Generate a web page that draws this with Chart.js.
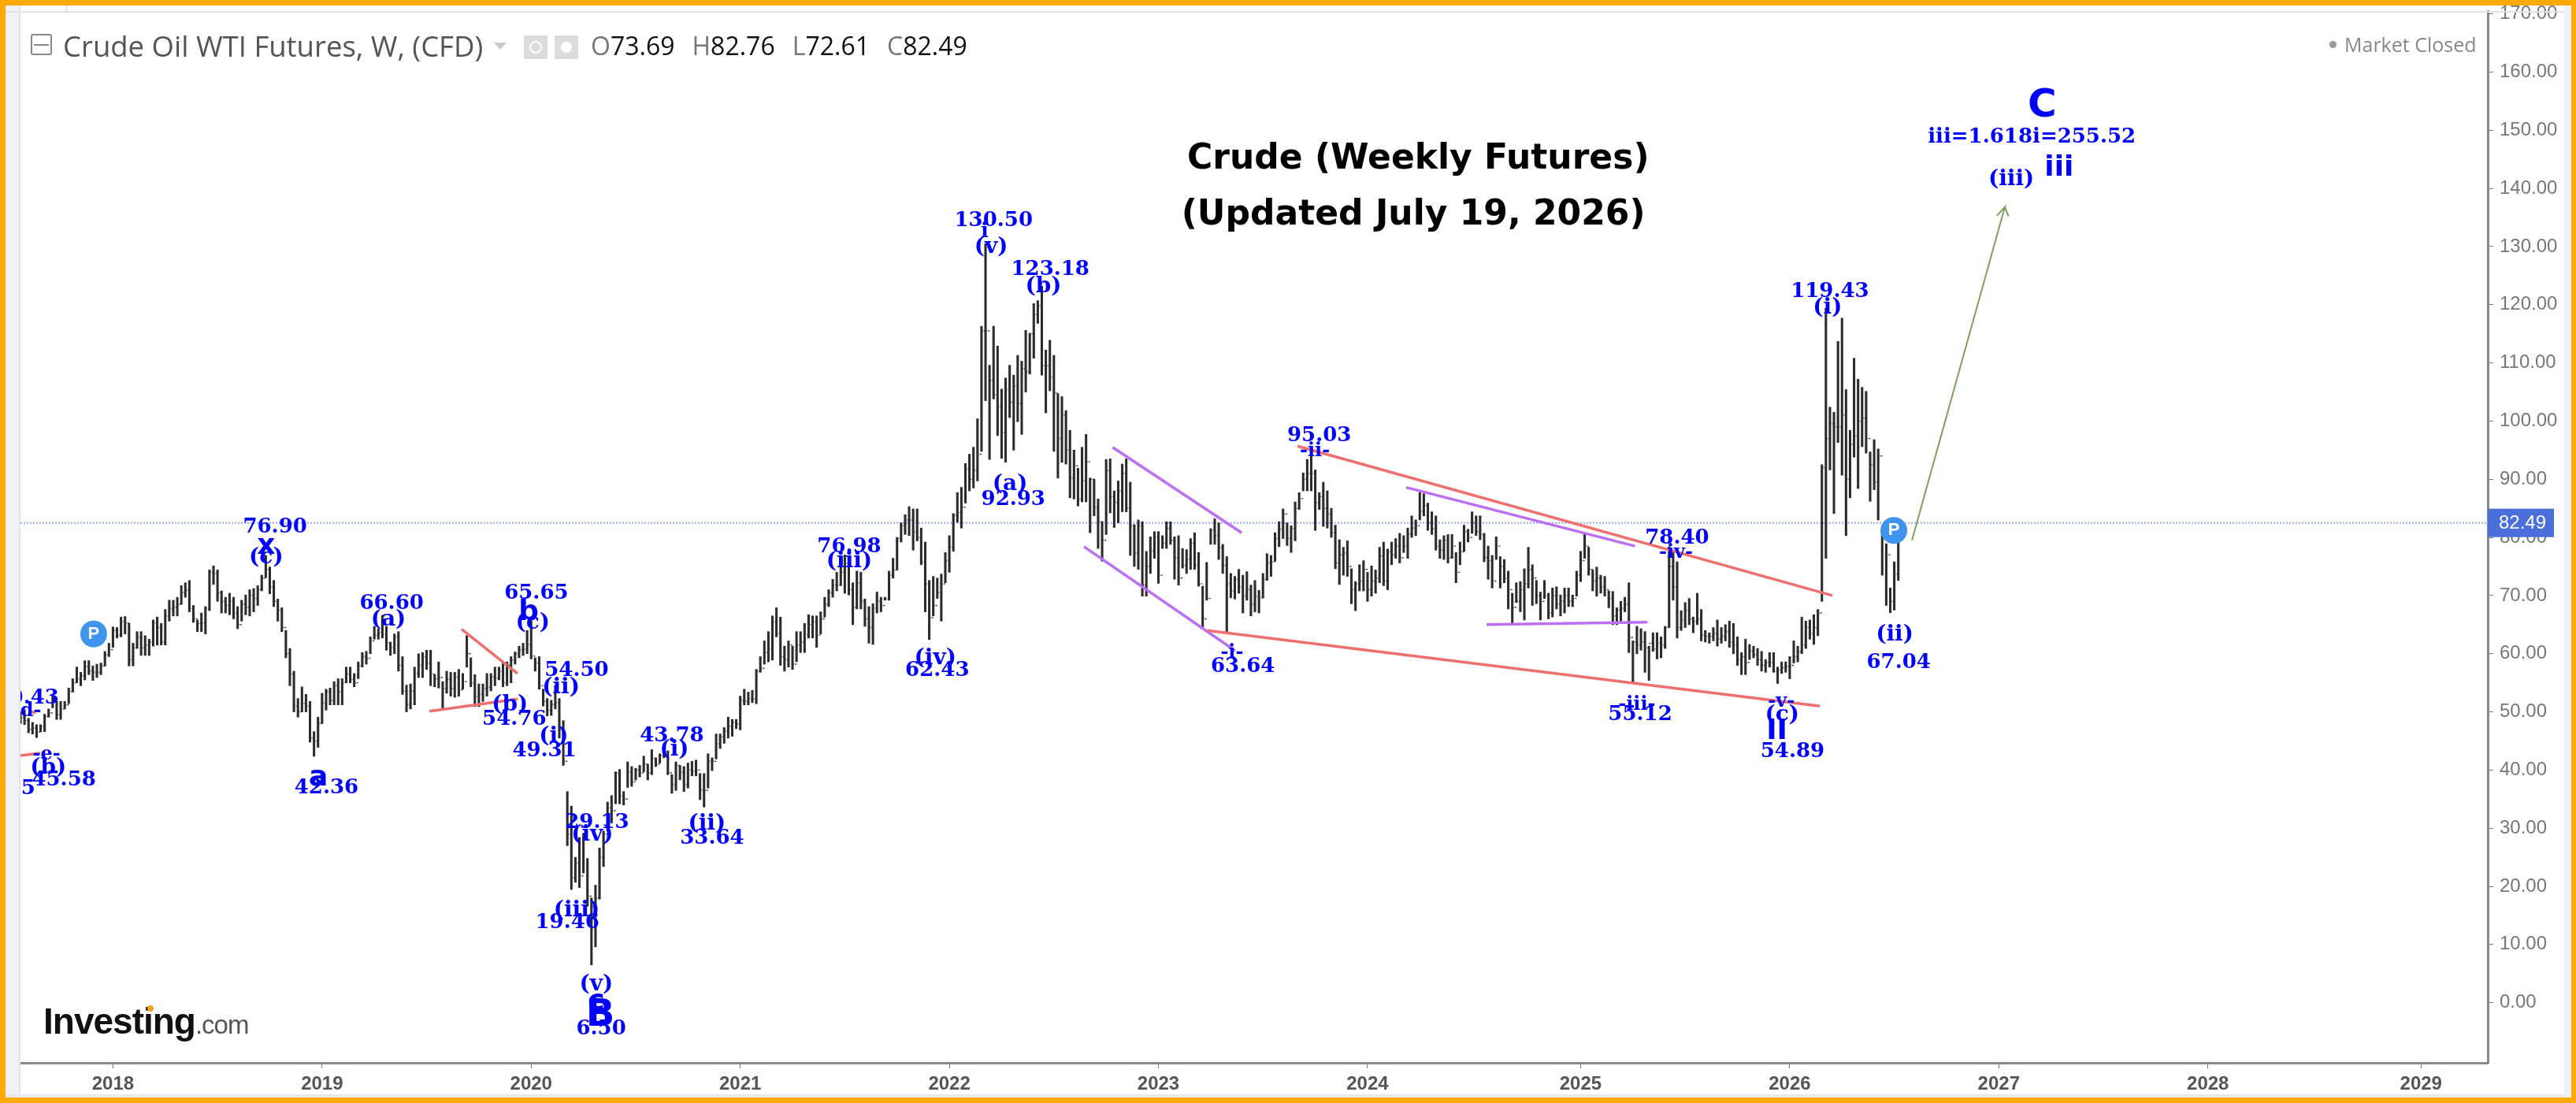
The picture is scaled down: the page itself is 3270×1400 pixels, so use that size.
<!DOCTYPE html>
<html>
<head>
<meta charset="utf-8">
<title>Crude Oil WTI Futures</title>
<script src="https://cdn.jsdelivr.net/npm/chart.js@4/dist/chart.umd.min.js"></script>
<style>
  html, body { margin: 0; padding: 0; background: #fff; width: 3270px; height: 1400px; overflow: hidden; }
  #chart { position: absolute; left: 0; top: 0; }
  .abs { position: absolute; }
  #frame { left: 0; top: 0; width: 3270px; height: 1400px; box-sizing: border-box;
           border: solid #ffaa00; border-width: 7px 6px 7px 7px; }
  #hdr { left: 80px; top: 36px; font: 36.5px "Open Sans", sans-serif; color: #555; white-space: nowrap; line-height: 44px; }
  #ohlc { left: 750px; top: 38px; font: 32px "Open Sans", sans-serif; color: #777; white-space: nowrap; line-height: 40px; }
  #ohlc b { font-weight: normal; color: #111; margin-right: 22px; }
  #closed { left: 2976px; top: 40px; font: 25px "Open Sans", sans-serif; color: #888; line-height: 32px; white-space: nowrap; }
  #logo { left: 55px; top: 1266px; font: bold 46px "Liberation Sans", sans-serif; letter-spacing: -1px; color: #111; white-space: nowrap; line-height: 60px; }
  #logo span { font: 33px "Liberation Sans", sans-serif; letter-spacing: -1px; color: #555; }
</style>
</head>
<body>
<canvas id="chart" width="3270" height="1400"></canvas>

<!-- panels round the plot -->
<div class="abs" style="left:7px;top:7px;width:19px;height:1386px;background:#f0f2f7;border-right:2px solid #e2e4ea;box-sizing:border-box"></div>
<div class="abs" style="left:7px;top:14px;width:3257px;height:2px;background:#dfe1e6"></div>
<div class="abs" style="left:7px;top:1389px;width:3257px;height:4px;background:#e8eaf2"></div>
<div class="abs" style="left:3255px;top:7px;width:9px;height:1386px;background:#eef0f6"></div>
<div class="abs" style="left:84px;top:7px;width:1px;height:8px;background:#ccc"></div>

<!-- toolbar bits -->
<div class="abs" style="left:39px;top:43px;width:27px;height:27px;border:2px solid #888;border-radius:3px;box-sizing:border-box"></div>
<div class="abs" style="left:43px;top:56px;width:19px;height:2px;background:#888"></div>
<div class="abs" style="left:627px;top:54px;width:0;height:0;border:8px solid transparent;border-top:9px solid #c8c8c8"></div>
<div class="abs" style="left:665px;top:45px;width:30px;height:30px;background:#dcdcdc"></div>
<div class="abs" style="left:672px;top:52px;width:12px;height:12px;border:2px solid #fff;border-radius:50%"></div>
<div class="abs" style="left:704px;top:45px;width:30px;height:30px;background:#dcdcdc"></div>
<div class="abs" style="left:712px;top:53px;width:14px;height:14px;background:#fff;border-radius:50%"></div>

<div id="hdr" class="abs"></div>
<div id="ohlc" class="abs"></div>
<div id="closed" class="abs"></div>
<div class="abs" style="left:2957px;top:52px;width:9px;height:9px;background:#999;border-radius:50%"></div>
<div id="logo" class="abs">Investing<span>.com</span></div>
<div class="abs" style="left:187px;top:1276px;width:8px;height:8px;background:#f9a11b;border-radius:50%"></div>
<div id="frame" class="abs"></div>

<script>
// weekly bars, oldest first
const highs = [
  50.0,50.3,48.9,48.2,47.8,47.8,49.6,50.5,52.7,51.8,51.8,51.8,54.1,55.7,57.7,56.8,58.8,58.8,57.9,58.2,
  58.4,60.4,61.8,64.6,64.5,66.3,66.4,65.2,61.8,63.8,63.8,63.1,62.5,65.8,66.3,65.2,67.6,69.2,69.2,69.7,
  71.7,72.2,72.6,68.3,65.8,67.0,68.1,74.4,75.1,74.4,70.8,69.7,70.4,69.7,68.1,69.2,70.1,71.0,71.2,71.7,
  73.5,76.9,74.9,72.6,69.4,67.9,64.0,60.9,57.0,52.3,54.3,53.0,51.8,46.6,49.1,53.2,53.9,54.1,55.2,55.7,
  55.7,57.7,57.7,56.6,58.6,60.2,60.4,62.9,64.7,64.3,66.6,64.7,62.0,63.4,63.8,59.5,54.6,54.8,57.7,60.0,
  60.2,60.6,60.6,56.4,58.6,55.2,57.0,56.8,56.8,57.3,56.6,63.1,59.3,56.4,54.8,54.8,56.6,56.6,57.7,57.7,
  58.4,58.6,59.5,60.3,61.3,61.8,64.0,65.65,59.3,59.5,53.9,52.3,52.0,54.5,52.3,48.5,36.3,33.8,25.0,28.4,
  29.13,24.8,18.0,20.2,26.6,29.5,34.5,35.6,39.7,40.1,36.3,41.4,40.6,40.3,40.8,42.4,41.0,43.5,42.1,42.8,
  43.78,43.3,39.2,41.4,40.8,40.6,41.2,41.5,41.7,39.4,39.4,42.8,42.1,46.2,46.2,47.3,49.1,48.7,48.7,52.7,
  53.9,53.4,53.7,57.3,59.5,62.2,63.8,66.5,67.9,66.3,61.3,62.2,61.3,63.8,63.8,65.2,66.7,66.5,66.5,67.2,
  69.7,71.0,72.8,74.0,75.6,76.98,75.3,72.2,74.2,74.0,69.4,68.1,68.6,70.6,69.7,69.7,74.2,76.4,80.0,82.5,
  83.9,85.3,84.9,84.9,81.6,79.2,72.6,73.3,73.0,73.7,77.4,80.3,84.1,87.7,88.6,92.7,94.3,95.5,100.4,116.3,
  130.5,109.6,116.3,112.9,105.5,107.4,109.6,107.9,111.3,110.3,115.6,115.1,120.2,120.7,123.18,112.2,113.9,111.3,104.7,104.2,
  101.8,98.4,95.0,91.9,95.5,97.7,90.2,90.0,86.6,82.7,93.4,93.5,88.0,89.7,92.6,93.5,89.5,82.2,83.0,82.7,
  77.6,80.1,81.0,81.0,80.3,82.7,82.7,80.1,80.3,78.1,77.9,79.8,80.8,77.4,71.6,75.7,81.5,83.2,82.5,78.8,
  76.7,73.8,73.3,74.5,73.5,74.1,71.8,72.6,70.9,73.8,77.2,76.9,80.8,82.7,84.9,82.5,82.0,86.1,87.7,91.1,
  93.4,95.03,91.6,87.7,89.5,88.0,85.0,82.1,79.6,78.3,79.4,74.6,72.4,75.3,76.0,74.0,75.1,74.4,78.3,79.2,
  78.0,79.2,79.8,80.7,80.3,81.6,83.7,83.0,87.7,87.5,85.9,84.4,83.7,79.6,80.3,80.5,80.5,77.4,79.2,82.1,
  81.4,84.4,83.7,83.7,80.7,78.5,76.9,80.1,76.7,76.2,74.2,70.4,72.2,72.4,74.6,78.3,75.3,72.6,70.6,72.6,
  70.4,71.3,71.5,70.1,71.3,71.3,70.1,74.2,77.6,80.7,78.3,74.4,74.9,73.5,73.3,70.8,70.7,67.9,69.0,69.7,
  72.2,62.2,64.7,64.3,63.8,61.3,63.6,63.6,62.9,64.7,78.4,77.8,75.8,67.4,68.8,69.5,66.3,70.4,67.6,64.0,
  63.6,64.5,65.8,64.5,65.0,65.6,65.2,62.9,60.2,62.5,61.6,61.3,60.9,60.4,59.0,60.2,60.2,57.7,58.6,58.6,
  59.5,62.2,61.3,66.3,65.6,65.8,66.7,67.6,92.5,119.43,102.4,101.5,113.7,117.7,105.4,98.4,110.8,107.2,105.8,105.1,
  94.7,96.8,95.2,81.2,78.9,71.3,75.8,82.76
];
const lows = [
  48.0,47.8,46.4,46.2,45.58,46.6,46.6,49.1,50.7,48.7,48.7,50.5,51.4,53.4,55.0,54.5,55.5,56.4,55.4,55.9,
  56.4,57.9,59.5,61.1,62.7,62.9,63.4,57.9,57.9,60.9,59.7,59.7,59.7,61.3,61.5,61.5,61.5,65.6,66.5,66.5,
  68.5,69.7,67.2,65.4,63.8,63.8,63.4,67.4,71.9,69.0,67.0,67.0,66.7,66.0,64.3,65.6,66.7,66.5,67.2,68.3,
  70.8,73.1,70.3,68.1,65.6,63.8,59.3,54.5,50.0,49.1,50.0,50.0,44.8,42.36,43.9,48.0,50.3,51.2,51.2,51.2,
  51.2,55.0,55.0,54.3,55.7,57.7,58.2,60.0,62.5,62.5,62.7,60.6,59.7,60.0,57.0,53.0,50.0,50.5,51.2,55.9,
  55.9,57.3,54.5,54.3,54.1,50.3,53.2,52.7,52.5,52.7,53.9,57.7,54.3,50.9,50.9,51.8,52.7,53.6,54.5,55.5,
  54.3,54.5,55.0,58.2,59.3,59.7,60.0,59.1,57.0,53.9,51.0,49.31,49.4,50.5,45.5,40.8,27.0,19.46,20.7,19.8,
  22.3,16.6,6.5,9.6,17.8,23.4,29.5,30.9,34.2,34.2,34.0,37.0,37.2,38.3,38.8,39.7,38.3,39.2,40.6,41.2,
  42.1,39.2,36.0,36.5,38.3,36.3,36.9,39.0,39.0,34.9,33.64,36.9,39.9,41.9,43.7,44.6,45.5,45.8,47.1,46.9,
  51.2,51.2,51.6,51.4,56.8,58.2,58.6,58.9,62.9,58.0,57.0,57.7,57.3,58.6,60.2,60.2,62.7,62.7,61.1,63.4,
  66.3,68.1,69.7,70.8,71.7,70.4,70.1,65.0,67.7,67.7,64.7,61.8,61.6,67.0,67.2,69.2,69.2,73.0,74.4,79.2,
  80.5,80.3,77.8,79.4,75.3,67.2,62.43,66.5,69.5,65.6,72.2,74.0,77.6,82.6,81.6,85.9,88.0,88.5,89.7,94.8,
  103.5,93.4,103.8,97.5,93.6,92.93,100.6,95.0,99.9,97.7,105.0,108.1,110.8,116.8,107.9,101.4,105.2,94.8,90.2,92.9,
  92.6,86.8,86.6,85.4,86.1,86.1,80.8,83.7,78.1,75.9,80.5,84.2,81.7,82.5,84.4,84.4,76.9,75.0,74.5,69.9,
  69.9,73.8,76.4,72.1,78.1,78.1,78.8,72.8,71.8,74.7,73.8,74.5,74.5,71.6,64.3,69.2,78.8,78.8,76.2,73.8,
  63.64,69.6,69.4,70.4,67.0,69.2,66.5,67.2,67.0,69.6,72.6,73.3,75.9,78.4,79.8,78.6,77.4,79.4,84.8,88.0,
  88.0,88.0,81.2,84.8,81.9,81.6,80.0,74.6,71.9,73.5,73.3,68.6,67.4,70.8,70.8,69.0,69.9,70.4,72.2,71.7,
  71.0,75.3,76.4,75.6,77.4,76.4,80.0,80.3,83.0,83.7,81.2,80.5,77.8,76.4,76.2,75.6,76.4,72.2,75.3,77.6,
  79.2,80.7,80.3,79.6,75.8,72.8,71.3,76.2,71.3,72.2,67.7,65.2,68.8,67.2,65.8,71.3,68.3,68.6,65.8,69.5,
  66.0,66.3,67.7,66.5,67.0,68.1,68.1,69.9,72.4,76.4,73.5,70.8,69.9,70.4,69.9,67.9,65.0,65.0,65.6,67.2,
  60.2,55.12,60.0,60.6,56.8,55.4,60.4,59.1,59.3,60.9,64.5,69.2,62.7,64.0,64.5,65.0,63.6,65.0,62.2,62.0,
  61.8,62.2,61.3,61.8,62.2,61.1,60.0,58.0,56.4,56.4,59.0,59.3,58.0,57.0,56.8,57.7,56.8,54.89,56.6,56.8,
  55.7,58.4,58.6,60.0,60.9,62.5,61.6,63.1,69.0,76.4,91.6,84.1,96.3,90.7,80.3,86.8,93.8,88.4,95.6,94.5,
  86.2,88.2,83.0,73.5,68.3,67.04,67.5,72.61
];
const closes = [
  49.0,48.5,47.0,47.2,46.5,47.5,49.2,49.8,51.8,49.5,50.5,51.2,53.5,55.0,55.7,56.2,57.8,57.0,56.8,56.8,
  57.9,59.8,60.7,64.0,63.2,65.5,65.3,59.0,61.0,62.8,61.0,61.5,62.0,65.3,64.5,62.0,66.5,67.8,68.0,68.5,
  70.5,70.9,67.8,66.0,65.2,65.3,67.8,74.0,73.8,70.5,69.0,68.3,69.0,67.0,65.0,68.5,68.0,70.0,69.5,71.0,
  73.0,74.5,71.5,69.0,67.5,64.5,60.0,56.5,51.0,50.0,51.5,51.0,45.5,45.0,48.0,51.5,53.5,52.0,54.5,53.5,
  55.0,56.5,55.6,55.0,57.9,59.5,59.2,62.2,63.2,63.6,63.4,61.9,61.0,62.9,58.0,53.6,51.3,53.6,56.6,58.0,
  59.5,58.3,56.5,55.7,55.9,54.0,55.6,54.0,56.0,53.8,55.2,60.0,55.0,52.6,53.0,54.0,54.2,56.0,55.8,57.0,
  55.0,58.0,58.9,60.0,60.6,60.8,61.6,59.6,58.4,54.5,51.8,50.3,51.3,51.6,47.0,41.5,29.0,21.5,24.0,21.8,
  28.5,18.3,16.5,18.0,25.0,29.0,33.5,33.0,39.5,35.5,35.0,39.7,38.0,40.0,39.5,41.0,39.5,42.0,41.0,42.5,
  42.5,39.5,37.5,40.8,39.6,37.5,40.0,39.8,40.0,36.6,36.5,41.5,41.5,44.5,45.7,46.7,47.5,48.2,47.9,52.0,
  51.8,52.3,52.2,57.0,57.5,60.2,60.8,65.5,63.5,59.5,59.0,61.5,58.2,61.5,62.0,63.3,65.0,65.5,63.2,66.0,
  68.5,70.5,71.8,71.8,74.0,75.5,71.0,68.0,72.2,69.0,66.0,64.5,67.8,69.0,68.3,69.4,73.5,74.4,79.8,82.0,
  83.0,83.0,81.0,80.0,75.8,72.0,66.2,68.3,70.5,72.0,76.0,78.3,83.8,84.3,85.2,91.8,90.0,91.5,94.3,115.5,
  115.5,107.0,104.5,102.5,98.0,105.5,103.2,106.0,103.0,109.0,108.5,115.0,118.3,119.8,109.5,109.5,107.5,104.8,97.0,101.0,
  95.0,90.2,92.3,86.6,89.8,93.0,90.0,85.2,82.7,79.5,91.5,87.0,86.0,88.0,91.0,85.0,82.0,77.3,82.0,71.8,
  75.0,77.7,80.0,73.5,79.0,81.5,79.5,76.5,73.0,75.2,76.2,79.0,75.2,72.0,66.0,69.5,81.2,80.3,78.2,75.2,
  72.0,70.8,72.8,71.5,70.0,71.0,68.5,69.8,69.6,72.8,75.6,75.8,79.8,81.4,84.0,79.8,81.5,85.0,86.7,90.0,
  91.0,91.0,86.0,87.0,85.0,84.0,80.8,75.6,77.0,77.3,75.0,71.0,72.0,72.5,74.5,71.0,72.5,73.0,76.8,72.5,
  77.5,77.0,78.5,76.5,78.5,80.6,81.6,82.0,84.5,85.5,82.5,81.5,78.5,77.8,79.5,76.5,78.5,74.0,77.5,81.0,
  80.0,82.5,81.0,80.5,76.5,76.0,72.5,78.5,75.0,73.0,71.0,68.0,69.0,71.0,72.0,74.5,73.0,70.0,69.0,70.0,
  67.0,70.0,68.5,69.0,70.0,69.0,69.5,73.5,76.0,78.5,74.5,72.5,73.0,71.5,71.0,69.5,66.5,67.5,67.8,68.5,
  62.8,62.0,61.5,62.0,61.0,61.8,60.8,61.8,61.5,64.5,75.0,71.5,64.5,65.8,67.5,66.0,65.5,66.0,63.2,63.0,
  63.0,63.5,62.5,63.0,63.8,62.0,61.5,59.0,59.5,58.5,60.5,59.8,59.0,58.0,58.5,58.5,57.0,57.2,57.6,57.8,
  58.0,59.5,60.3,61.5,64.5,63.5,64.5,67.0,92.0,97.0,99.5,99.0,99.0,101.0,90.0,96.0,97.5,100.0,100.5,97.0,
  92.5,89.5,94.0,80.5,77.0,69.0,73.69,82.49
];

const lastOpen = 73.69, lastHigh = 82.76, lastLow = 72.61, lastClose = 82.49;

// x axis runs in week numbers, years sit where the feed put them
const yearWeeks = [23, 75, 127, 179, 231, 283, 335, 388, 440, 492, 544, 597];
const yearLabels = ['2018','2019','2020','2021','2022','2023','2024','2025','2026','2027','2028','2029'];
const priceTicks = [0,10,20,30,40,50,60,70,80,90,100,110,120,130,140,150,160,170];

// [week, price] ends of the drawn trendlines
const redLines = [
  [[317.6,95.7],[450.6,70.0]],
  [[295.1,64.0],[447.5,51.0]],
  [[109.7,64.2],[123.6,56.6]],
  [[101.7,50.1],[123.6,52.2]],
  [[0,42.5],[4.9,42.9]],
  [[2,50.2],[3.7,49.8]]
];
const purpleLines = [
  [[271.6,95.5],[303.7,80.8]],
  [[264.5,78.4],[302.1,60.5]],
  [[344.6,88.6],[401.5,78.5]],
  [[364.6,65.0],[404.6,65.4]]
];
const arrowPath = [[470.4,79.5],[493.5,136.8],[491.5,135.3],[493.5,136.8],[494.4,135.2]];
const pivotMarks = [[18.2,63.4],[465.9,81.2]];

// wave counts: [text, week, price, kind]
const waveLabels = [
  ['50.43',1.6,52.8,'n'],['-d-',1.6,50.5,'s'],['-e-',6.5,43.0,'s'],['(b)',6.9,40.7,'p'],
  ['45.58',10.8,38.6,'n'],['45.05',-4.3,37.2,'n'],
  ['76.90',63.3,82.1,'n'],['x',61.1,78.9,'m'],['(c)',61.1,76.9,'p'],
  ['a',74.1,39.0,'m'],['42.36',76.1,37.3,'n'],
  ['66.60',92.3,69.0,'n'],['(a)',91.5,66.3,'p'],
  ['65.65',128.3,70.7,'n'],['b',126.4,67.4,'m'],['(c)',127.4,65.7,'p'],
  ['54.50',138.3,57.5,'n'],['(ii)',134.4,54.6,'p'],
  ['(b)',121.7,51.6,'p'],['54.76',122.8,49.1,'n'],
  ['(i)',132.6,46.2,'p'],['49.31',130.3,43.7,'n'],
  ['29.13',143.4,31.3,'n'],['(iv)',142.2,29.2,'p'],
  ['(iii)',138.3,16.2,'p'],['19.46',136,14.2,'n'],
  ['(v)',143.2,3.5,'p'],['c',143.2,0.5,'m'],['B',144.2,-1.9,'l'],['6.50',144.4,-4.1,'n'],
  ['43.78',162,46.3,'n'],['(i)',162.6,43.9,'p'],
  ['(ii)',170.7,31.1,'p'],['33.64',172,28.7,'n'],
  ['76.98',206.1,78.7,'n'],['(iii)',206.1,76.2,'p'],
  ['(iv)',227.5,59.6,'p'],['62.43',228,57.5,'n'],
  ['130.50',242,134.8,'n'],['i',239.8,132.9,'n'],['(v)',241.4,130.3,'p'],
  ['123.18',256.1,126.4,'n'],['(b)',254.4,123.6,'p'],
  ['(a)',246.1,89.6,'p'],['92.93',246.9,86.9,'n'],
  ['95.03',323,97.8,'n'],['-ii-',321.9,95.2,'s'],
  ['-i-',301.3,60.6,'s'],['63.64',304,58.2,'n'],
  ['78.40',412,80.2,'n'],['-iv-',411.7,77.8,'s'],
  ['-iii-',402,51.6,'s'],['55.12',402.8,49.9,'n'],
  ['-v-',437.9,52.2,'s'],['(c)',438.1,49.9,'p'],['II',436.8,47.0,'m'],['54.89',440.7,43.6,'n'],
  ['119.43',450,122.6,'n'],['(i)',449.4,119.9,'p'],
  ['(ii)',466.1,63.6,'p'],['67.04',467.1,58.9,'n'],
  ['C',502.8,154.5,'xl'],['iii=1.618i=255.52',500.2,149.2,'n'],['iii',507,143.8,'m'],['(iii)',495.1,141.9,'p']
];
const titleLines = [
  ['Crude (Weekly Futures)',347.6,145.0],
  ['(Updated July 19, 2026)',346.4,135.4]
];

const waveFonts = {
  s: 'bold 24px "DejaVu Serif"',
  n: 'bold 26px "DejaVu Serif"',
  p: 'bold 28px "DejaVu Serif"',
  m: 'bold 36px "DejaVu Sans"',
  l: 'bold 48px "DejaVu Sans"',
  xl: 'bold 50px "DejaVu Sans"'
};

document.getElementById('hdr').textContent = 'Crude Oil WTI Futures, W, (CFD)';
document.getElementById('ohlc').innerHTML =
  'O<b>' + lastOpen + '</b>H<b>' + lastHigh + '</b>L<b>' + lastLow + '</b>C<b>' + lastClose + '</b>';
document.getElementById('closed').textContent = 'Market Closed';

const barData = highs.map((h, i) => ({x: i, y: [lows[i], h]}));
const toXY = (pts) => pts.map((p) => ({x: p[0], y: p[1]}));
const lineSet = (pts, color, width) => ({
  type: 'scatter', showLine: true, data: toXY(pts), borderColor: color, borderWidth: width,
  pointRadius: 0, order: 1, tension: 0
});

// open/close nubs on every bar
const ohlcTicks = {
  id: 'ohlcTicks',
  afterDatasetsDraw(chart) {
    const {ctx, scales: {x, y}, chartArea: a} = chart;
    ctx.save();
    ctx.beginPath(); ctx.rect(a.left, a.top, a.width, a.height); ctx.clip();
    ctx.strokeStyle = '#333';
    ctx.lineWidth = 1.4;
    ctx.beginPath();
    closes.forEach((c, i) => {
      const px = x.getPixelForValue(i);
      if (i > 0) {
        const po = y.getPixelForValue(closes[i - 1]);
        ctx.moveTo(px - 2, po); ctx.lineTo(px, po);
      }
      const pc = y.getPixelForValue(c);
      ctx.moveTo(px, pc); ctx.lineTo(px + 2, pc);
    });
    ctx.stroke();
    ctx.restore();
  }
};

const waveText = {
  id: 'waveText',
  afterDatasetsDraw(chart) {
    const {ctx, scales: {x, y}, chartArea: a} = chart;
    ctx.save();
    ctx.beginPath(); ctx.rect(a.left, a.top, a.width, a.height); ctx.clip();
    ctx.textAlign = 'center';
    ctx.textBaseline = 'middle';
    ctx.fillStyle = '#0000ff';
    for (const [t, wk, p, k] of waveLabels) {
      ctx.font = waveFonts[k];
      ctx.fillText(t, x.getPixelForValue(wk), y.getPixelForValue(p) + 3);
    }
    ctx.fillStyle = '#000';
    ctx.font = 'bold 44px "DejaVu Sans"';
    for (const [t, wk, p] of titleLines) {
      ctx.fillText(t, x.getPixelForValue(wk), y.getPixelForValue(p));
    }
    // pivot circles
    for (const [wk, p] of pivotMarks) {
      const cx = x.getPixelForValue(wk), cy = y.getPixelForValue(p);
      ctx.fillStyle = '#3f94ee';
      ctx.beginPath(); ctx.arc(cx, cy, 17, 0, Math.PI * 2); ctx.fill();
      ctx.fillStyle = '#fff';
      ctx.font = 'bold 22px "Liberation Sans"';
      ctx.fillText('P', cx, cy);
    }
    ctx.restore();
  }
};

// blue last price tag on the axis
const lastPriceTag = {
  id: 'lastPriceTag',
  afterDraw(chart) {
    const {ctx, scales: {y}, chartArea: a} = chart;
    const py = y.getPixelForValue(lastClose);
    ctx.save();
    ctx.fillStyle = '#4a6fd8';
    ctx.fillRect(a.right, py - 18, 84, 36);
    ctx.fillStyle = '#fff';
    ctx.font = '24px "Liberation Sans"';
    ctx.textAlign = 'left';
    ctx.textBaseline = 'middle';
    ctx.fillText(lastClose.toFixed(2), a.right + 14, py + 1);
    ctx.restore();
  }
};

new Chart(document.getElementById('chart'), {
  type: 'bar',
  data: {
    datasets: [
      {data: barData, backgroundColor: '#2b2b2b', barThickness: 2.4, order: 2},
      Object.assign(lineSet([[0, lastClose], [614, lastClose]], '#93a7f2', 2), {borderDash: [2, 2], order: 3}),
      ...redLines.map((l) => lineSet(l, '#ef6f6c', 3.5)),
      ...purpleLines.map((l) => lineSet(l, '#bb6ff5', 3.5)),
      lineSet(arrowPath, '#7ea05c', 2)
    ]
  },
  options: {
    responsive: false,
    animation: false,
    layout: {padding: {left: 26, top: 14, right: 0, bottom: 0}},
    plugins: {legend: {display: false}, tooltip: {enabled: false}},
    scales: {
      x: {
        type: 'linear',
        offset: false,
        min: 0,
        max: 613.6,
        grid: {offset: false, drawOnChartArea: false, drawTicks: true, tickLength: 7, tickColor: '#777'},
        border: {color: '#8a8a8a', width: 3},
        afterBuildTicks: (s) => { s.ticks = yearWeeks.map((w) => ({value: w})); },
        afterFit: (s) => { s.height = 51; s.paddingLeft = 0; s.paddingRight = 0; },
        ticks: {
          autoSkip: false, maxRotation: 0, padding: 6, color: '#555',
          font: {family: '"Liberation Sans"', size: 24, weight: 'bold'},
          callback: (v) => yearLabels[yearWeeks.indexOf(v)]
        }
      },
      y: {
        position: 'right',
        min: -10.34,
        max: 170.5,
        grid: {drawOnChartArea: false, drawTicks: true, tickLength: 7, tickColor: '#777'},
        border: {color: '#8a8a8a', width: 3},
        afterBuildTicks: (s) => { s.ticks = priceTicks.map((v) => ({value: v})); },
        afterFit: (s) => { s.width = 112; s.paddingTop = 0; s.paddingBottom = 0; },
        ticks: {
          autoSkip: false, padding: 8, color: '#777',
          font: {family: '"Liberation Sans"', size: 24},
          callback: (v) => v.toFixed(2)
        }
      }
    }
  },
  plugins: [ohlcTicks, waveText, lastPriceTag]
});
</script>
</body>
</html>
